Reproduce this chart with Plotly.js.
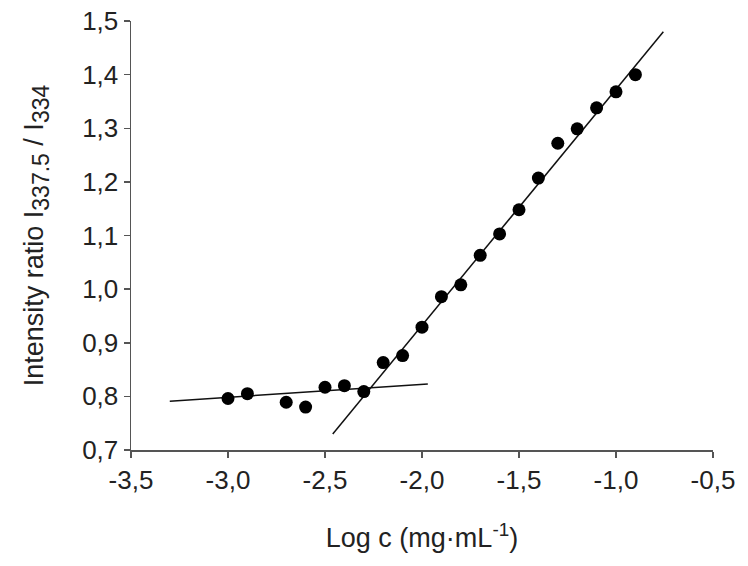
<!DOCTYPE html>
<html>
<head>
<meta charset="utf-8">
<script src="https://cdn.plot.ly/plotly-3.0.1.min.js"></script>
<style>html,body{margin:0;padding:0;background:#fff;}#chart{width:748px;height:566px;}</style>
</head>
<body>
<div id="chart"></div>
<script>
const logC = [-3.0, -2.9, -2.7, -2.6, -2.5, -2.4, -2.3, -2.2, -2.1, -2.0, -1.9, -1.8, -1.7, -1.6, -1.5, -1.4, -1.3, -1.2, -1.1, -1.0, -0.9];
const ratio = [0.796, 0.805, 0.789, 0.780, 0.817, 0.820, 0.809, 0.863, 0.876, 0.929, 0.986, 1.008, 1.063, 1.103, 1.148, 1.207, 1.272, 1.299, 1.338, 1.368, 1.400];
const flatLineX = [-3.30, -1.97];
const flatLineY = [0.791, 0.823];
const steepLineX = [-2.46, -0.756];
const steepLineY = [0.730, 1.480];
const xTicks = [-3.5, -3.0, -2.5, -2.0, -1.5, -1.0, -0.5];
const yTicks = [0.7, 0.8, 0.9, 1.0, 1.1, 1.2, 1.3, 1.4, 1.5];
const fmt = v => v.toFixed(1).replace('.', ',');
const xTickText = xTicks.map(fmt);
const yTickText = yTicks.map(fmt);

const tickFont = {family: 'Liberation Sans, Arial, sans-serif', size: 26, color: '#222'};
const titleFont = {family: 'Liberation Sans, Arial, sans-serif', size: 27, color: '#222'};

const data = [
  {x: flatLineX, y: flatLineY, mode: 'lines', line: {color: '#111', width: 1.5}, hoverinfo: 'skip'},
  {x: steepLineX, y: steepLineY, mode: 'lines', line: {color: '#111', width: 1.5}, hoverinfo: 'skip'},
  {x: logC, y: ratio, mode: 'markers', marker: {color: '#000', size: 13}}
];

const layout = {
  width: 748, height: 566,
  margin: {l: 131, r: 35, t: 21, b: 116},
  paper_bgcolor: '#fff', plot_bgcolor: '#fff',
  showlegend: false,
  font: tickFont,
  xaxis: {
    range: [-3.5, -0.5], tickvals: xTicks, ticktext: xTickText,
    showgrid: false, zeroline: false,
    showline: true, linecolor: '#555', linewidth: 1.5,
    ticks: 'outside', ticklen: 6, tickcolor: '#555', tickwidth: 1.5,
    tickfont: tickFont,
    title: {text: 'Log c (mg·mL<sup>-1</sup>)', font: titleFont, standoff: 34}
  },
  yaxis: {
    range: [0.7, 1.5], tickvals: yTicks, ticktext: yTickText,
    showgrid: false, zeroline: false,
    showline: true, linecolor: '#555', linewidth: 1.5,
    ticks: 'outside', ticklen: 6, tickcolor: '#555', tickwidth: 1.5,
    tickfont: tickFont,
    title: {text: 'Intensity ratio I<sub><span style="font-size:23px">337.5</span></sub> / I<sub><span style="font-size:23px">334</span></sub>', font: titleFont, standoff: 30}
  }
};

Plotly.newPlot('chart', data, layout, {staticPlot: true});
</script>
</body>
</html>
